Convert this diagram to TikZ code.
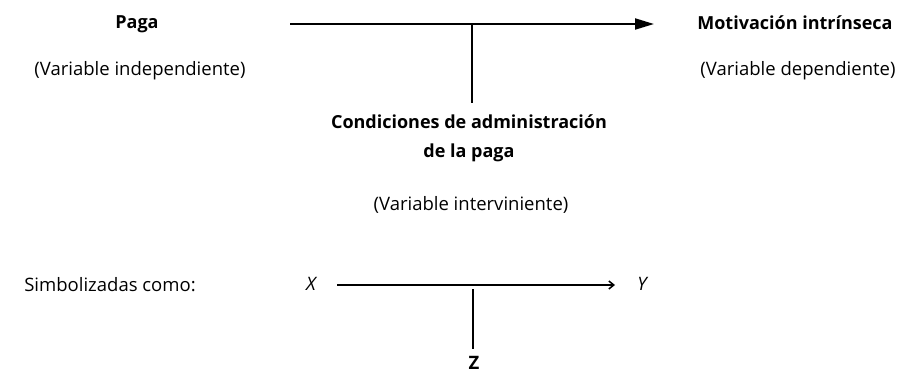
\documentclass[tikz,border=0pt]{standalone}
\usepackage{fontspec}
\setmainfont{Open Sans}
\usetikzlibrary{arrows.meta}
\begin{document}
\begin{tikzpicture}[x=1pt,y=-1pt,
  lbl/.style={inner sep=0pt,font=\fontsize{18.5}{22}\selectfont},
  blbl/.style={inner sep=0pt,font=\fontsize{18}{29}\selectfont\bfseries,align=center},
  sym/.style={inner sep=0pt,font=\fontsize{18.5}{22}\selectfont\itshape},
  conn/.style={line width=2pt},
  bigarrow/.style={conn,-{Triangle[length=19pt,width=11pt]}},
  smallarrow/.style={line width=1.5pt,-{Straight Barb[length=5pt,width=8pt]}}]
\useasboundingbox (0,0) rectangle (903,375);
% top diagram
\node[blbl] (paga) at (137,24) {Paga};
\node[lbl] (vi) at (140,71) {(Variable independiente)};
\node[blbl] (mot) at (795,23) {Motivación intrínseca};
\node[lbl] (vd) at (798,71) {(Variable dependiente)};
\node[blbl] (cond) at (469,138) {Condiciones de administración\\de la paga};
\node[lbl] (vint) at (471,205) {(Variable interviniente)};
\coordinate (a1) at (290,24);
\coordinate (a2) at (654,24);
\coordinate (v1) at (472,24);
\coordinate (v2) at (472,103);
\draw[bigarrow] (a1) -- (a2);
\draw[conn] (v1) -- (v2);
% symbols
\node[lbl] (simb) at (110,285) {Simbolizadas como:};
\node[sym] (X) at (311,284) {X};
\node[sym] (Y) at (642,284) {Y};
\node[inner sep=0pt,font=\fontsize{18.5}{22}\selectfont\bfseries] (Z) at (474,363) {Z};
\coordinate (b1) at (337,285);
\coordinate (b2) at (615,285);
\coordinate (w1) at (473,289);
\coordinate (w2) at (473,349);
\draw[smallarrow] (b1) -- (b2);
\draw[conn] (w1) -- (w2);
\end{tikzpicture}
\end{document}
